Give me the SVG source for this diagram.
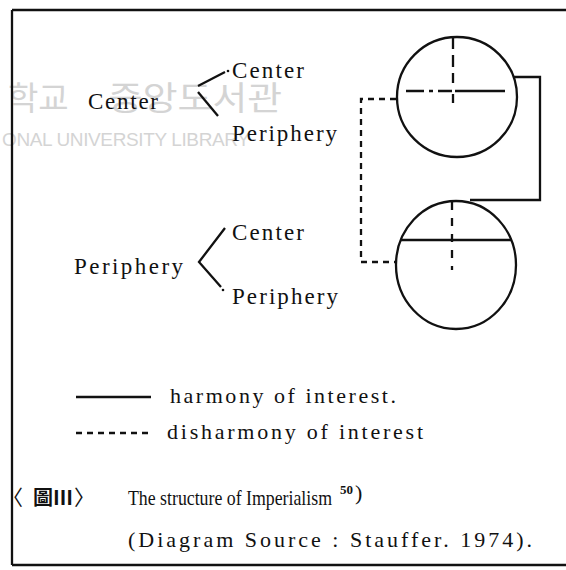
<svg xmlns="http://www.w3.org/2000/svg" width="566" height="570" viewBox="0 0 566 570">
<style>
.t{font-family:"Liberation Serif","Times New Roman",serif;fill:#111}
.f23{font-size:23px}
.f22{font-size:22px}
.cjk{font-family:"Noto Sans CJK KR","Noto Sans CJK SC",serif;font-size:21px}
.wm{font-family:"Noto Sans CJK KR","Noto Sans",sans-serif;fill:#d4d4d4}
.s{fill:none;stroke:#111;stroke-width:2.3}
.d{fill:none;stroke:#111;stroke-width:2.3;stroke-dasharray:6 5}
</style>
<rect width="566" height="570" fill="#fff"/>
<g id="watermark">
<text class="wm" x="8" y="110" style="font-size:33px">학교</text>
<text class="wm" x="108" y="110" style="font-size:33px" textLength="174" lengthAdjust="spacingAndGlyphs">중앙도서관</text>
<text class="wm" x="2" y="146" style="font-size:19px;font-family:'Liberation Sans',sans-serif" textLength="248" lengthAdjust="spacing">ONAL UNIVERSITY LIBRARY</text>
</g>
<g id="frame">
<path class="s" d="M12,10 H566 M12,10 V565 M12,565 H566"/>
</g>
<g id="connectors">
<path class="s" d="M198,86 L225,72"/>
<circle cx="228" cy="71" r="1.3" fill="#111"/>
<path class="s" d="M198,92 L218,116"/>
<path class="s" d="M225,228 L199,262 L221,287"/>
<circle cx="223" cy="290" r="1.3" fill="#111"/>
<path class="s" d="M514,77 H540 V200 H470"/>
<path class="d" d="M396,99 H361 V262 H396"/>
</g>
<g id="center-group">
<text class="t f23" x="88" y="109" textLength="70" lengthAdjust="spacing">Center</text>
<text class="t f23" x="232" y="78" textLength="72" lengthAdjust="spacing">Center</text>
<text class="t f23" x="232" y="141" textLength="105" lengthAdjust="spacing">Periphery</text>
</g>
<g id="periphery-group">
<text class="t f23" x="74" y="274" textLength="109" lengthAdjust="spacing">Periphery</text>
<text class="t f23" x="232" y="240" textLength="72" lengthAdjust="spacing">Center</text>
<text class="t f23" x="232" y="304" textLength="106" lengthAdjust="spacing">Periphery</text>
</g>
<g id="circle-top">
<circle class="s" cx="457" cy="97" r="60"/>
<path class="s" d="M453,37 V83" stroke-dasharray="12 6"/>
<path class="s" d="M453,94 V103"/>
<path class="s" d="M406,91 H508" stroke-dasharray="18 5 4 5 14 3 50 3 4"/>
</g>
<g id="circle-bottom">
<ellipse class="s" cx="456" cy="265" rx="60" ry="64"/>
<path class="s" d="M400,240 H512"/>
<path class="s" d="M452,202 V270" stroke-dasharray="8 8"/>
</g>
<g id="legend">
<path class="s" d="M76,397 H151"/>
<text class="t f22" x="170" y="403" textLength="226" lengthAdjust="spacing">harmony of interest.</text>
<path class="d" d="M76,433 H151" stroke-dasharray="9 6"/>
<text class="t f22" x="167" y="439" textLength="256" lengthAdjust="spacing">disharmony of interest</text>
</g>
<g id="caption">
<text class="t cjk" x="2" y="505">〈</text>
<text class="t cjk" x="33" y="505" style="font-size:20px;font-weight:bold">圖Ⅲ</text>
<text class="t cjk" x="74" y="505">〉</text>
<text class="t f22" x="128" y="505" textLength="204" lengthAdjust="spacingAndGlyphs">The structure of Imperialism</text>
<text class="t" x="340" y="494" style="font-size:13px;font-weight:bold">50</text>
<text class="t" x="355" y="500" style="font-size:22px">)</text>
<text class="t f22" x="128" y="547" textLength="404" lengthAdjust="spacing">(Diagram Source : Stauffer. 1974).</text>
</g>
</svg>
